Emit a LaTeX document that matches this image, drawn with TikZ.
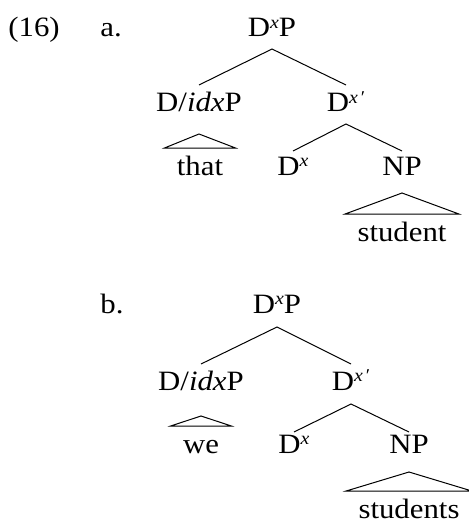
\documentclass[tikz,border=0pt]{standalone}
\usepackage{fontspec}
\setmainfont[FakeStretch=1.1]{Liberation Serif}
\usetikzlibrary{calc}

\tikzset{
  lbl/.style={font=\fontsize{14}{17}\selectfont, inner sep=0pt, anchor=base},
  branch/.style={line width=0.5pt},
}
% x superscript and bar level
\newcommand{\sx}{\raisebox{4.4pt}{\fontsize{9}{10}\selectfont\textit{x}}}
\newcommand{\sxbar}{\raisebox{4.4pt}{\fontsize{9}{10}\selectfont\textit{x}\,′}}
% triangle: parent, leaf, drop of apex
\newcommand{\roofdraw}[3]{%
  \draw[branch] ($(#2.base west)+(-12,-27)$) -- ($(#1.base)+(0,#3)$)
    -- ($(#2.base east)+(12,-27)$) -- cycle;}

\begin{document}
\begin{tikzpicture}[x=0.5pt,y=-0.5pt]
    \useasboundingbox (0,0) rectangle (468,524);
    % (16a)
    \node[lbl,anchor=base west] (ex) at (8,37) {(16)};
    \node[lbl,anchor=base west] (la) at (100,37) {a.};
    \node[lbl] (dxpa) at (272,37) {D\sx P};
    \node[lbl] (didxa) at (199,112) {D/\textit{idx}P};
    \node[lbl] (dxbara) at (346,112) {D\sxbar};
    \node[lbl] (thata) at (200,175) {that};
    \node[lbl] (dxa) at (293,175) {D\sx};
    \node[lbl] (npa) at (402,175) {NP};
    \node[lbl] (studa) at (402,241) {student};
    \draw[branch] ($(didxa.base)+(0,-27)$) -- ($(dxpa.base)+(0,12)$) -- ($(dxbara.base)+(0,-27)$);
    \draw[branch] ($(dxa.base)+(0,-24)$) -- ($(dxbara.base)+(0,12)$) -- ($(npa.base)+(0,-24)$);
    \roofdraw{didxa}{thata}{22}
    \roofdraw{npa}{studa}{18}
    % (16b)
    \node[lbl,anchor=base west] (lb) at (100,313) {b.};
    \node[lbl] (dxpb) at (277,313) {D\sx P};
    \node[lbl] (didxb) at (201,390) {D/\textit{idx}P};
    \node[lbl] (dxbarb) at (351,390) {D\sxbar};
    \node[lbl] (web) at (201,453) {we};
    \node[lbl] (dxb) at (294,453) {D\sx};
    \node[lbl] (npb) at (409,453) {NP};
    \node[lbl] (studb) at (409,518) {students};
    \draw[branch] ($(didxb.base)+(0,-26)$) -- ($(dxpb.base)+(0,14)$) -- ($(dxbarb.base)+(0,-26)$);
    \draw[branch] ($(dxb.base)+(0,-21)$) -- ($(dxbarb.base)+(0,14)$) -- ($(npb.base)+(0,-21)$);
    \roofdraw{didxb}{web}{26}
    \roofdraw{npb}{studb}{19}
\end{tikzpicture}
\end{document}
